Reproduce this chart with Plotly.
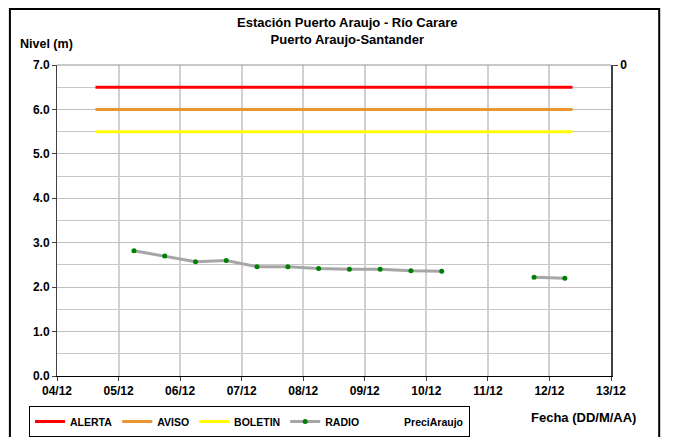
import plotly.graph_objects as go

# ---- data ----
radio_dates = ["2012-12-05 06:00", "2012-12-05 18:00", "2012-12-06 06:00", "2012-12-06 18:00",
               "2012-12-07 06:00", "2012-12-07 18:00", "2012-12-08 06:00", "2012-12-08 18:00",
               "2012-12-09 06:00", "2012-12-09 18:00", "2012-12-10 06:00", "2012-12-11 06:00",
               "2012-12-11 18:00", "2012-12-12 06:00"]
radio_values = [2.82, 2.70, 2.57, 2.60, 2.46, 2.46, 2.42, 2.40, 2.40, 2.37, 2.36, None, 2.22, 2.20]

threshold_dates = ["2012-12-04 15:00", "2012-12-12 09:00"]
alerta = [6.5, 6.5]
aviso = [6.0, 6.0]
boletin = [5.5, 5.5]

precip_dates = ["2012-12-08 00:00"]
precip_values = [0]

tick_dates = ["2012-12-%02d" % d for d in range(4, 14)]
tick_labels = ["%02d/12" % d for d in range(4, 14)]

FONT = "Liberation Sans, Arial, sans-serif"
BF = dict(family=FONT, size=12, color="black", weight="bold")

fig = go.Figure()
fig.add_trace(go.Scatter(x=threshold_dates, y=alerta, mode="lines", name="ALERTA",
                         line=dict(color="#ff0000", width=3)))
fig.add_trace(go.Scatter(x=threshold_dates, y=aviso, mode="lines", name="AVISO",
                         line=dict(color="#e8962e", width=3)))
fig.add_trace(go.Scatter(x=threshold_dates, y=boletin, mode="lines", name="BOLETIN",
                         line=dict(color="#ffff00", width=3)))
fig.add_trace(go.Scatter(x=radio_dates, y=radio_values, mode="lines+markers", name="RADIO",
                         connectgaps=False,
                         line=dict(color="#a6a6a6", width=3),
                         marker=dict(color="#008000", size=5)))
fig.add_trace(go.Bar(x=precip_dates, y=precip_values, name="PreciAraujo", yaxis="y2",
                     marker=dict(color="rgba(0,0,0,0)", line=dict(width=0))))

fig.update_layout(
    width=675, height=437,
    margin=dict(l=57, r=64, t=65, b=61, autoexpand=False),
    paper_bgcolor="white", plot_bgcolor="white",
    font=dict(family=FONT, size=11, color="black"),
    showlegend=True,
    legend=dict(orientation="h", xref="container", yref="container",
                x=29 / 675, y=1 - 406 / 437, xanchor="left", yanchor="top",
                bordercolor="black", borderwidth=1, bgcolor="white",
                font=dict(family=FONT, size=10.5, color="black", weight="bold"),
                itemwidth=30, tracegroupgap=0),
    xaxis=dict(type="date", range=["2012-12-04", "2012-12-13"],
               tickvals=tick_dates, ticktext=tick_labels,
               showgrid=True, gridcolor="#d0d0d0", gridwidth=1.5,
               showline=True, linecolor="black", linewidth=1,
               ticks="outside", ticklen=4, tickcolor="#404040",
               tickfont=BF, zeroline=False),
    yaxis=dict(range=[0, 7], dtick=1, tickformat=".1f",
               showgrid=True, gridcolor="#c0c0c0", gridwidth=1,
               minor=dict(dtick=0.5, showgrid=True, gridcolor="#c8c8c8", gridwidth=1),
               showline=True, linecolor="#404040", linewidth=1,
               ticks="outside", ticklen=4, tickcolor="#404040",
               tickfont=BF, zeroline=False),
    yaxis2=dict(overlaying="y", side="right", range=[10, 0],
                tickvals=[0], ticktext=["0"], showgrid=False, zeroline=False,
                showline=True, linecolor="#404040", linewidth=1.5,
                ticks="outside", ticklen=5, tickcolor="#404040",
                tickfont=BF),
    shapes=[
        dict(type="line", xref="paper", yref="paper", x0=0, x1=1, y0=1, y1=1,
             line=dict(color="#909090", width=1)),
        dict(type="rect", xref="paper", yref="paper", x0=-0.085, x1=1.087, y0=-0.25, y1=1.18,
             line=dict(color="black", width=2), fillcolor="rgba(0,0,0,0)"),
    ],
    annotations=[
        dict(text="Estación Puerto Araujo - Río Carare<br>Puerto Araujo-Santander",
             xref="paper", yref="paper", x=0.525, y=1.0, xanchor="center", yanchor="bottom",
             yshift=16, showarrow=False,
             font=dict(family=FONT, size=13, color="black", weight="bold")),
        dict(text="Nivel (m)", xref="paper", yref="paper", x=-0.07, y=1.0,
             xanchor="left", yanchor="bottom", yshift=12, showarrow=False,
             font=dict(family=FONT, size=12.5, color="black", weight="bold")),
        dict(text="Fecha (DD/M/AA)", xref="paper", yref="paper", x=1.049, y=-0.135,
             xanchor="right", yanchor="middle", showarrow=False,
             font=dict(family=FONT, size=13, color="black", weight="bold")),
    ],
)

fig.write_html("out.html", config={"displayModeBar": False},
               post_script="document.body.style.margin='0';document.body.style.padding='0';")
